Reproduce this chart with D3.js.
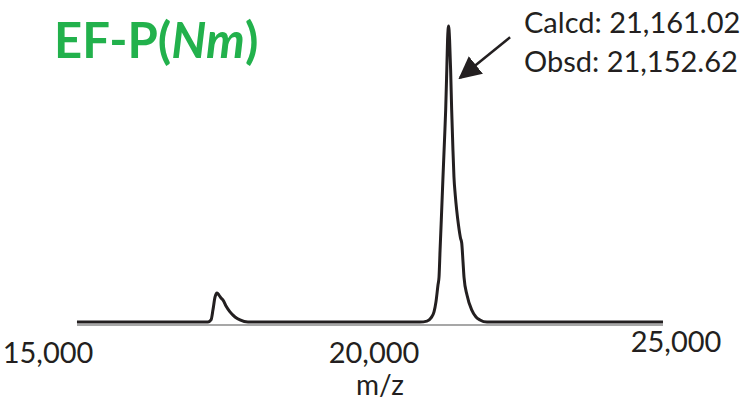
<!DOCTYPE html>
<html>
<head>
<meta charset="utf-8">
<script src="https://cdn.jsdelivr.net/npm/d3@7"></script>
<style>
  body { margin: 0; background: #fff; }
  text { font-family: Lato, 'Open Sans', sans-serif; fill: #231f20; }
</style>
</head>
<body>
<script>
// spectrum (m/z, relative intensity)
const mzValues = [
  15452, 17462, 17508, 17538, 17569, 17600, 17630, 17661, 17692, 17738, 17799,
  17876, 17952, 18075, 20713, 20820, 20882, 20928, 20958, 20989, 21005, 21021,
  21040, 21064, 21089, 21107, 21124, 21136, 21152, 21167, 21183, 21199,
  21216, 21234, 21254, 21276, 21303, 21334, 21353, 21373, 21388, 21434, 21506,
  21572, 21633, 21741, 24440
];
const intensityValues = [
  0, 0, 0.7, 4.1, 8.4, 9.8, 9.1, 8.1, 7.4, 5.4, 3.4,
  1.7, 0.7, 0, 0, 0.3, 1.4, 3.4, 6.8, 12.5, 15.2, 24.3,
  34.5, 48.0, 61.5, 71.6, 85.1, 95.3, 100, 95.3, 85.1, 71.6,
  59.8, 49.0, 42.9, 37.8, 32.8, 28.4, 26.7, 20.3, 15.2, 9.1, 4.1,
  1.7, 0.7, 0, 0
];
const xTicks = [15000, 20000, 25000];
const axisExtent = [15452, 24440];
const xLabel = 'm/z';
const calcdLabel = 'Calcd: 21,161.02';
const obsdLabel = 'Obsd: 21,152.62';
const peakMz = 21152;

const width = 742;
const height = 407;

const svg = d3.select('body')
  .append('svg')
  .attr('width', width)
  .attr('height', height);

const xScale = d3.scaleLinear()
  .domain([15000, 25000])
  .range([47.5, 699.5]);

const yScale = d3.scaleLinear()
  .domain([0, 100])
  .range([322, 26]);

// thin axis line under the trace
svg.append('line')
  .attr('x1', xScale(axisExtent[0]))
  .attr('x2', xScale(axisExtent[1]))
  .attr('y1', yScale(0) + 3)
  .attr('y2', yScale(0) + 3)
  .attr('stroke', '#8a8a8a')
  .attr('stroke-width', 1.5);

// tick labels
const xAxis = d3.axisBottom(xScale)
  .tickValues(xTicks)
  .tickSize(0)
  .tickFormat(d3.format(','));

const axisG = svg.append('g')
  .attr('transform', 'translate(0,' + (yScale(0) + 17.5) + ')')
  .call(xAxis);

axisG.select('.domain').remove();
axisG.selectAll('text')
  .attr('fill', '#231f20')
  .style('font-size', '29px')
  .style('font-family', 'Lato, sans-serif')
  .attr('dy', '0.71em');
// last label sits a little up and left in the original
axisG.selectAll('.tick')
  .filter((d) => d === 25000)
  .select('text')
  .attr('x', -24)
  .attr('y', -8);

svg.append('text')
  .attr('x', xScale(20100))
  .attr('y', 395)
  .attr('text-anchor', 'middle')
  .style('font-size', '28px')
  .text(xLabel);

// spectrum trace
const points = mzValues.map((mz, i) => [mz, intensityValues[i]]);
const line = d3.line()
  .x((d) => xScale(d[0]))
  .y((d) => yScale(d[1]))
  .curve(d3.curveMonotoneX);

svg.append('path')
  .datum(points)
  .attr('d', line)
  .attr('fill', 'none')
  .attr('stroke', '#231f20')
  .attr('stroke-width', 3)
  .attr('stroke-linejoin', 'round');

// title
const title = svg.append('text')
  .attr('x', 54)
  .attr('y', 58)
  .style('font-size', '49px')
  .style('font-weight', 'bold')
  .style('fill', '#22b14c');
title.append('tspan').text('EF-P(');
title.append('tspan').style('font-style', 'italic').text('Nm');
title.append('tspan').text(')');

// annotation
svg.append('defs')
  .append('marker')
  .attr('id', 'head')
  .attr('viewBox', '0 0 10 10')
  .attr('refX', 9)
  .attr('refY', 5)
  .attr('markerWidth', 9)
  .attr('markerHeight', 9)
  .attr('markerUnits', 'strokeWidth')
  .attr('orient', 'auto')
  .append('path')
  .attr('d', 'M0,0 L10,5 L0,10 Z')
  .attr('fill', '#231f20');

const tipX = xScale(peakMz) + 9.5;
const tipY = yScale(82);
svg.append('line')
  .attr('x1', tipX + 52)
  .attr('y1', tipY - 42)
  .attr('x2', tipX + 2)
  .attr('y2', tipY - 1.5)
  .attr('stroke', '#231f20')
  .attr('stroke-width', 2.5)
  .attr('marker-end', 'url(#head)');

svg.append('text')
  .attr('x', 524)
  .attr('y', 33)
  .style('font-size', '29px')
  .text(calcdLabel);

svg.append('text')
  .attr('x', 524)
  .attr('y', 72)
  .style('font-size', '29px')
  .text(obsdLabel);
</script>
</body>
</html>
